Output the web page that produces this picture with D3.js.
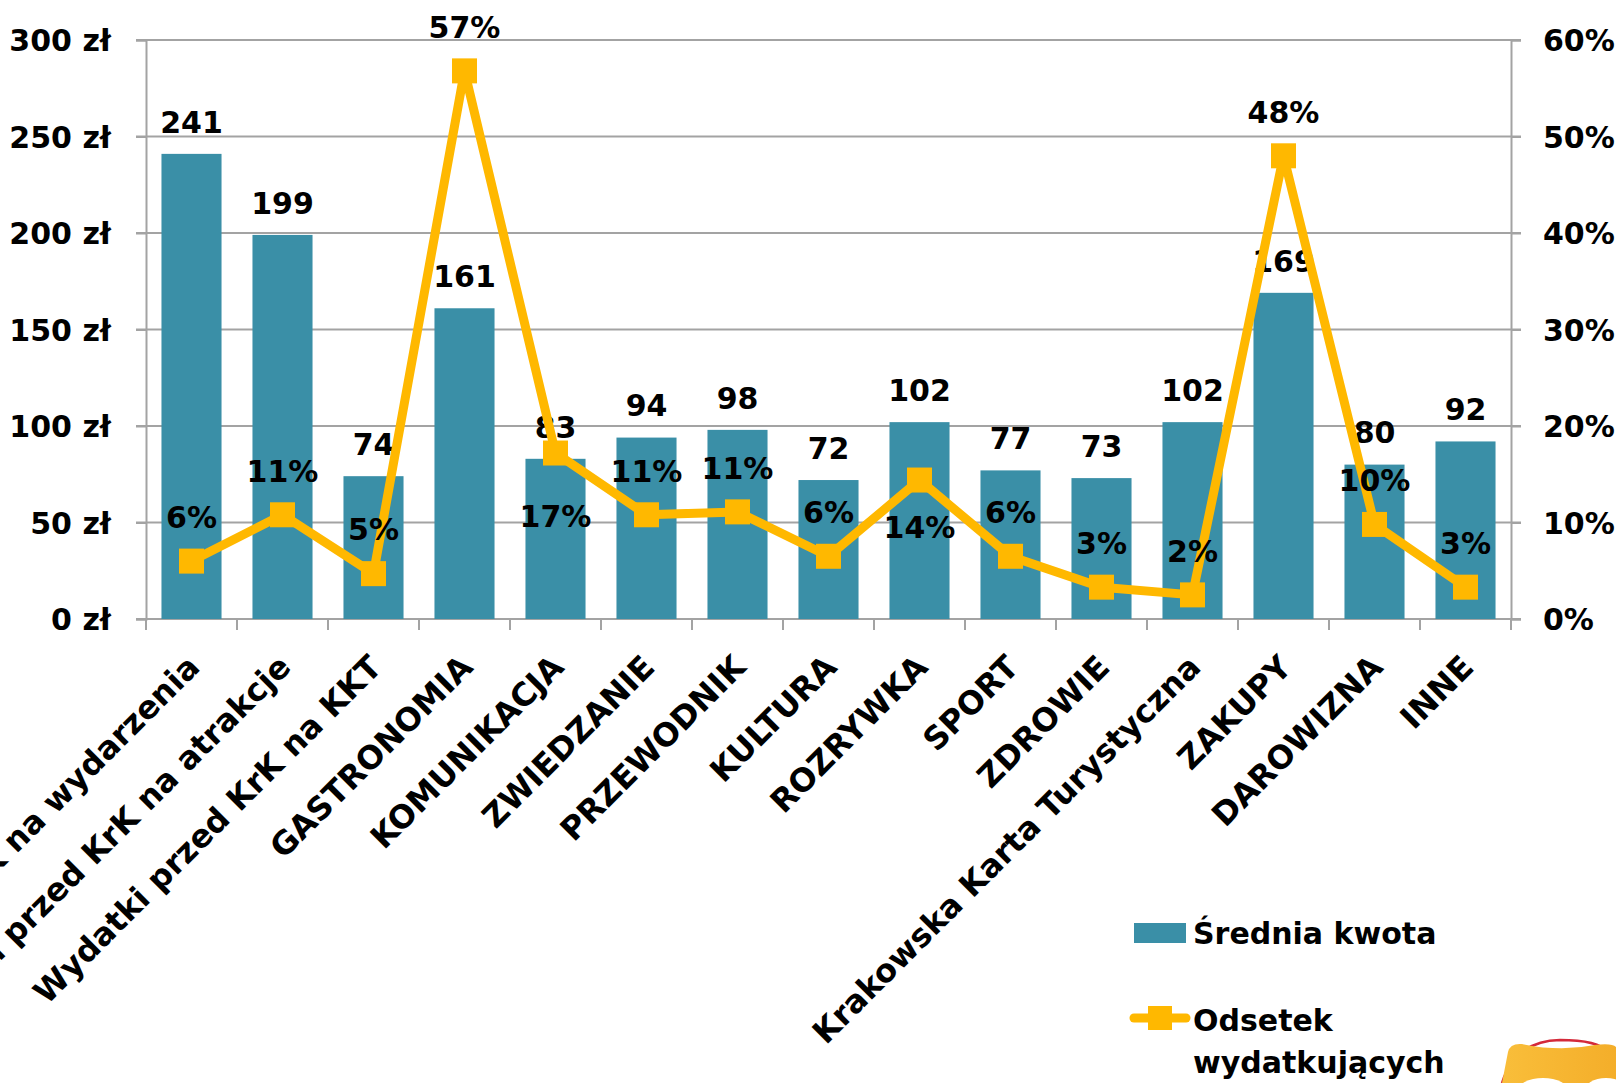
<!DOCTYPE html>
<html><head><meta charset="utf-8">
<script src="https://cdn.jsdelivr.net/npm/d3@7/dist/d3.min.js"></script>
<style>
html,body{margin:0;padding:0;background:#fff;overflow:hidden}
svg{display:block}
text{font-family:"DejaVu Sans",sans-serif;font-weight:700;fill:#000}
</style></head>
<body>
<svg id="chart" width="1616" height="1083"></svg>
<script>
const categories = ["Wydatki przed KrK na wydarzenia","Wydatki przed KrK na atrakcje","Wydatki przed KrK na KKT","GASTRONOMIA","KOMUNIKACJA","ZWIEDZANIE","PRZEWODNIK","KULTURA","ROZRYWKA","SPORT","ZDROWIE","Krakowska Karta Turystyczna","ZAKUPY","DAROWIZNA","INNE"];
const avgAmount = [241,199,74,161,83,94,98,72,102,77,73,102,169,80,92];
const shareSpending = [0.06,0.108,0.047,0.568,0.172,0.108,0.111,0.065,0.144,0.065,0.033,0.025,0.48,0.098,0.033];
const shareLabels = ["6%","11%","5%","57%","17%","11%","11%","6%","14%","6%","3%","2%","48%","10%","3%"];
const leftTicks = [0,50,100,150,200,250,300];
const rightTicks = [0,0.1,0.2,0.3,0.4,0.5,0.6];
const seriesNames = ["Średnia kwota","Odsetek","wydatkujących"];

// style settings: percentage labels drawn below their marker (offset in px)
const shareLabelBelow = {"KOMUNIKACJA":63,"ROZRYWKA":47};

const BAR = "#3A8FA7", LINE = "#FFB800", GRID = "#A3A3A3";
const FS = 30, FSX = 32;
const svg = d3.select("#chart");
const L = 146, R = 1511, T = 40, B = 619;

const x = d3.scaleBand().domain(categories).range([L,R]).paddingInner(0.34).paddingOuter(0.17);
const y = d3.scaleLinear().domain([0,300]).range([B,T]);
const y2 = d3.scaleLinear().domain([0,0.6]).range([B,T]);

// gridlines
svg.append("g").selectAll("line").data(leftTicks).join("line")
  .attr("x1",L-10).attr("x2",R+10).attr("y1",d=>y(d)).attr("y2",d=>y(d))
  .attr("stroke",GRID).attr("stroke-width",2);

// left axis
const gl = svg.append("g").attr("transform",`translate(${L},0)`)
  .call(d3.axisLeft(y).tickValues(leftTicks).tickSize(10).tickPadding(25).tickFormat(d=>d+" zł"));
gl.select(".domain").attr("stroke",GRID).attr("stroke-width",2);
gl.selectAll(".tick line").attr("stroke",GRID).attr("stroke-width",2);
gl.selectAll(".tick text").attr("font-size",FS).attr("font-family",null).attr("dy","0.36em");

// right axis
const gr = svg.append("g").attr("transform",`translate(${R},0)`)
  .call(d3.axisRight(y2).tickValues(rightTicks).tickSize(10).tickPadding(22).tickFormat(d3.format(".0%")));
gr.select(".domain").attr("stroke",GRID).attr("stroke-width",2);
gr.selectAll(".tick line").attr("stroke",GRID).attr("stroke-width",2);
gr.selectAll(".tick text").attr("font-size",FS).attr("font-family",null).attr("dy","0.36em");

// bottom axis: ticks at band boundaries
const bounds = categories.map(c=>x(c)-x.step()*x.paddingInner()/2).concat([R]);
svg.append("line").attr("x1",L).attr("x2",R).attr("y1",B).attr("y2",B).attr("stroke",GRID).attr("stroke-width",2);
svg.append("g").selectAll("line").data(bounds).join("line")
  .attr("x1",d=>d).attr("x2",d=>d).attr("y1",B).attr("y2",B+11)
  .attr("stroke",GRID).attr("stroke-width",2);

// bars
svg.append("g").selectAll("rect").data(categories).join("rect")
  .attr("x",c=>x(c)).attr("width",x.bandwidth())
  .attr("y",(c,i)=>y(avgAmount[i])).attr("height",(c,i)=>B-y(avgAmount[i]))
  .attr("fill",BAR);

// bar labels
svg.append("g").selectAll("text").data(categories).join("text")
  .attr("x",c=>x(c)+x.bandwidth()/2).attr("y",(c,i)=>y(avgAmount[i])-32)
  .attr("dy","0.36em").attr("text-anchor","middle").attr("font-size",FS)
  .text((c,i)=>avgAmount[i]);

// line
const cx = c=>x(c)+x.bandwidth()/2;
const line = d3.line().x((d,i)=>cx(categories[i])).y(d=>y2(d));
svg.append("path").datum(shareSpending).attr("d",line)
  .attr("fill","none").attr("stroke",LINE).attr("stroke-width",9).attr("stroke-linejoin","round");
svg.append("g").selectAll("rect").data(shareSpending).join("rect")
  .attr("x",(d,i)=>cx(categories[i])-12.5).attr("y",d=>y2(d)-12.5)
  .attr("width",25).attr("height",25).attr("fill",LINE);

// line labels
svg.append("g").selectAll("text").data(shareSpending).join("text")
  .attr("x",(d,i)=>cx(categories[i]))
  .attr("y",(d,i)=>y2(d)+(shareLabelBelow[categories[i]] ?? -44))
  .attr("dy","0.36em").attr("text-anchor","middle").attr("font-size",FS)
  .text((d,i)=>shareLabels[i]);

// category labels
svg.append("g").selectAll("text").data(categories).join("text")
  .attr("transform",c=>`translate(${cx(c)+10},${B+50}) rotate(-45)`)
  .attr("text-anchor","end").attr("font-size",FSX)
  .text(c=>c);

// legend
svg.append("rect").attr("x",1134).attr("y",923).attr("width",52).attr("height",20).attr("fill",BAR);
svg.append("text").attr("x",1193).attr("y",944).attr("font-size",FS).text(seriesNames[0]);
svg.append("line").attr("x1",1134).attr("x2",1186).attr("y1",1018).attr("y2",1018)
  .attr("stroke",LINE).attr("stroke-width",9).attr("stroke-linecap","round");
svg.append("rect").attr("x",1148).attr("y",1006).attr("width",24).attr("height",24).attr("fill",LINE);
svg.append("text").attr("x",1193).attr("y",1031).attr("font-size",FS).text(seriesNames[1]);
svg.append("text").attr("x",1193).attr("y",1073).attr("font-size",FS).text(seriesNames[2]);

// logo decoration (bottom-right)
const logo = svg.append("g");
const grad = svg.append("defs").append("linearGradient").attr("id","lg").attr("x1","0").attr("x2","1");
grad.append("stop").attr("offset","0").attr("stop-color","#F9BE3A");
grad.append("stop").attr("offset","1").attr("stop-color","#F4AE2A");
logo.append("path").attr("d","M1502,1083 Q1515,1041 1560,1040 Q1598,1040 1608,1052").attr("fill","none").attr("stroke","#D42A3A").attr("stroke-width",2.5);
logo.append("path").attr("d","M1508,1052 Q1510,1043 1522,1044 Q1560,1052 1595,1045 Q1612,1043 1616,1047 L1616,1083 L1502,1083 Z").attr("fill","url(#lg)");
logo.append("ellipse").attr("cx",1543).attr("cy",1092).attr("rx",26).attr("ry",14).attr("fill","#fff");
logo.append("ellipse").attr("cx",1606).attr("cy",1092).attr("rx",22).attr("ry",14).attr("fill","#fff");
</script>
</body></html>
